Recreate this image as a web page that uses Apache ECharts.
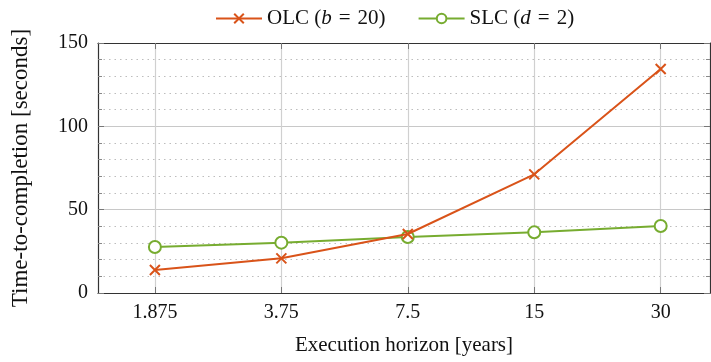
<!DOCTYPE html>
<html>
<head>
<meta charset="utf-8">
<script src="https://cdn.jsdelivr.net/npm/echarts@6/dist/echarts.min.js"></script>
<style>
  html, body { margin: 0; padding: 0; background: #fff; }
  #chart { width: 711px; height: 362px; }
</style>
</head>
<body>
<div id="chart"></div>
<script>
// execution horizons (years) and time-to-completion (seconds)
var horizons = ['1.875', '3.75', '7.5', '15', '30'];
var olcValues = [13.8, 20.8, 35.4, 71.2, 134.4];
var slcValues = [27.6, 30.2, 33.6, 36.4, 40.2];
var yTicks = [0, 50, 100, 150];

var font = 'Liberation Serif';
var orange = '#D95319';
var green = '#77AC30';
var tickIdx = horizons.map(function (h, i) { return i; });

function pts(vals) {
    return vals.map(function (v, i) { return [i, v]; });
}

var boxLine = { show: true, onZero: false, lineStyle: { color: '#333', width: 1.2 } };

var myChart = echarts.init(document.getElementById('chart'));
var option = {
    animation: false,
    textStyle: { fontFamily: font },
    legend: {
        top: 3,
        left: 210,
        itemWidth: 46,
        itemHeight: 12,
        itemGap: 32,
        textStyle: {
            fontFamily: font, fontSize: 21, color: '#111',
            rich: { i: { fontFamily: font, fontSize: 21, fontStyle: 'italic', color: '#111' } }
        },
        formatter: function (name) {
            if (name.indexOf('OLC') === 0) return 'OLC ({i|b}\u2004=\u200420)';
            return 'SLC ({i|d}\u2004=\u20042)';
        },
        data: ['OLC', 'SLC']
    },
    grid: { left: 98, right: 1, top: 43, bottom: 69 },
    xAxis: [{
        type: 'value',
        min: -0.45,
        max: 4.39,
        name: 'Execution horizon [years]',
        nameLocation: 'middle',
        nameGap: 42,
        nameTextStyle: { fontFamily: font, fontSize: 21, color: '#111' },
        axisLine: boxLine,
        axisTick: { show: true, inside: true, length: 6, customValues: tickIdx, lineStyle: { color: '#777' } },
        axisLabel: {
            customValues: tickIdx, margin: 10,
            fontFamily: font, fontSize: 20, color: '#111',
            formatter: function (v) { return horizons[Math.round(v)]; }
        },
        splitLine: { show: true, lineStyle: { color: '#d0d0d0', width: 1.2 } }
    }, {
        type: 'value',
        position: 'top',
        min: -0.45,
        max: 4.39,
        axisLine: boxLine,
        axisTick: { show: true, inside: true, length: 6, customValues: tickIdx, lineStyle: { color: '#777' } },
        axisLabel: { show: false },
        splitLine: { show: false }
    }],
    yAxis: [{
        type: 'value',
        min: 0,
        max: 150,
        interval: 50,
        name: 'Time-to-completion [seconds]',
        nameLocation: 'middle',
        nameGap: 66,
        nameTextStyle: { fontFamily: font, fontSize: 23, color: '#111' },
        axisLine: boxLine,
        axisTick: { show: true, inside: true, length: 6, lineStyle: { color: '#777' } },
        minorTick: { show: true, splitNumber: 5, length: 4, lineStyle: { color: '#888' } },
        axisLabel: {
            customValues: yTicks, margin: 10,
            fontFamily: font, fontSize: 20, color: '#111'
        },
        splitLine: { show: true, lineStyle: { color: '#c8c8c8', width: 1.2 } },
        minorSplitLine: { show: true, lineStyle: { color: '#bdbdbd', type: [1.5, 4], width: 1 } }
    }, {
        type: 'value',
        position: 'right',
        min: 0,
        max: 150,
        interval: 50,
        axisLine: boxLine,
        axisTick: { show: true, inside: true, length: 6, lineStyle: { color: '#777' } },
        minorTick: { show: true, splitNumber: 5, length: 4, lineStyle: { color: '#888' } },
        axisLabel: { show: false },
        splitLine: { show: false }
    }],
    series: [
        {
            name: 'OLC',
            type: 'line',
            data: pts(olcValues),
            symbol: 'path://M0,0L10,10M10,0L0,10',
            symbolSize: 10,
            lineStyle: { color: orange, width: 2 },
            itemStyle: { color: orange, borderColor: orange, borderWidth: 2 },
            z: 3
        },
        {
            name: 'SLC',
            type: 'line',
            data: pts(slcValues),
            symbol: 'emptyCircle',
            symbolSize: 12,
            lineStyle: { color: green, width: 2 },
            itemStyle: { color: green, borderColor: green, borderWidth: 2 },
            z: 2
        }
    ]
};
myChart.setOption(option);
</script>
</body>
</html>
